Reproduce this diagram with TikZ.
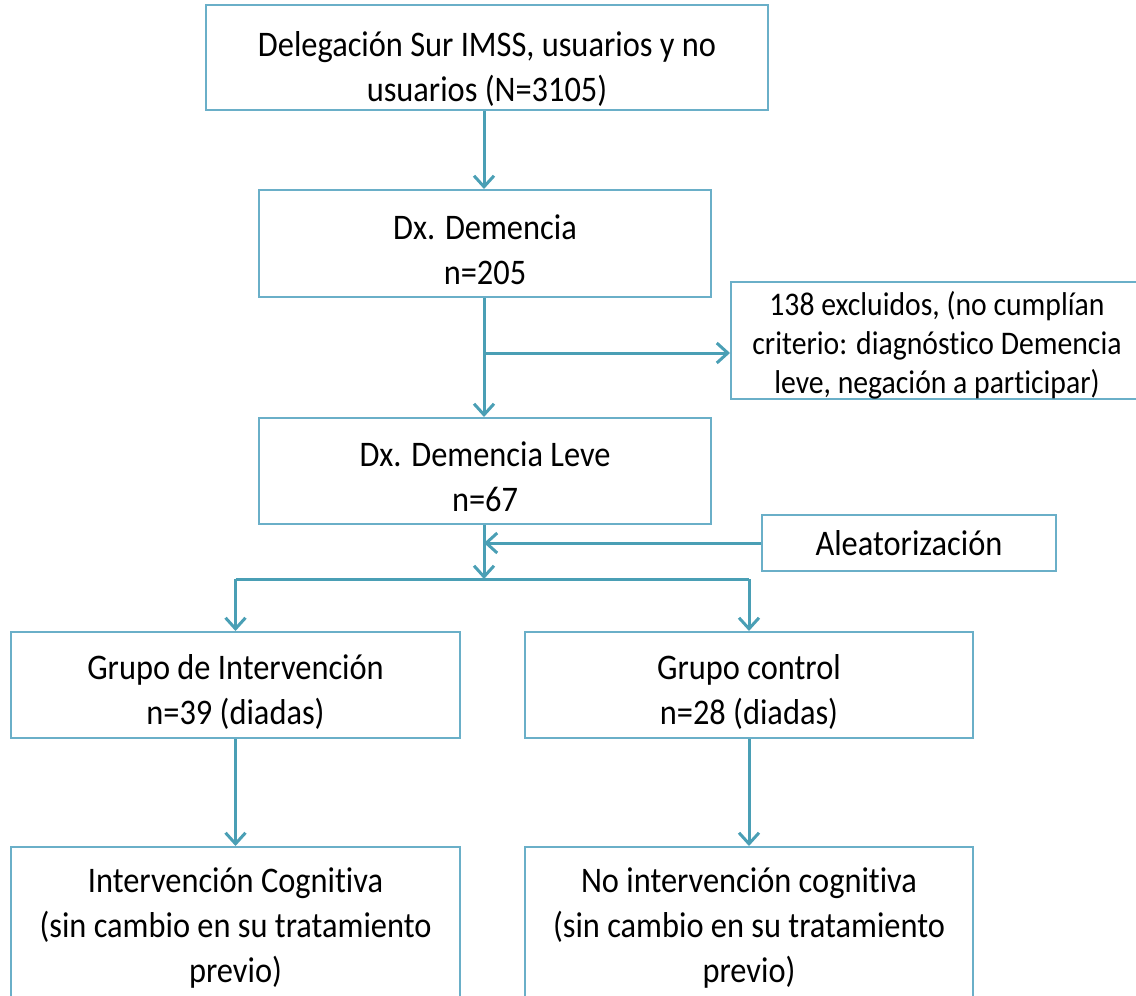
\documentclass[tikz,border=0pt]{standalone}
\usepackage{fontspec}
\setmainfont{Carlito}[Ligatures = NoCommon, FakeStretch = 0.9]
\usetikzlibrary{arrows.meta}
\usetikzlibrary{calc}

\definecolor{boxline}{HTML}{6AAFC8}
\definecolor{flowline}{HTML}{4A9FB5}

% pushes a text down inside its box
\newcommand{\dropby}[1]{\rule{0pt}{#1}}

\tikzset{
  stage/.style = {draw = boxline, line width = 2pt, align = center, inner sep = 0pt,
                  font = \fontsize{36}{45}\selectfont},
  flow/.style  = {draw = flowline, line width = 3pt, -{Straight Barb[length=11pt,width=20pt,line width=3pt]}}
}

\begin{document}
\begin{tikzpicture}[x = 1pt, y = -1pt]
            \useasboundingbox (0,0) rectangle (1136,996);
            \clip (0,0) rectangle (1136,996);
            \node[stage, minimum width = 562pt, minimum height = 105pt] (Del) at (487,57.5) {\dropby{47pt}Delegación Sur IMSS, usuarios y no\\usuarios (N=3105)};
            \node[stage, minimum width = 452pt, minimum height = 107pt] (Dem) at (485,243.5) {\dropby{37pt}Dx. Demencia\\n=205};
            \node[stage, font = \fontsize{33}{39}\selectfont, minimum width = 412pt, minimum height = 109pt] (Exc) at (937,340.5) {\dropby{34pt}138 excluidos, (no cumplían\\criterio: diagnóstico Demencia\\leve, negación a participar)};
            \node[stage, minimum width = 452pt, minimum height = 106pt] (Leve) at (485,471) {\dropby{37pt}Dx. Demencia Leve\\n=67};
            \node[stage, minimum width = 294pt, minimum height = 56pt] (Alea) at (909,543) {Aleatorización};
            \node[stage, minimum width = 449pt, minimum height = 106pt] (GI) at (235.5,685) {\dropby{39pt}Grupo de Intervención\\n=39 (diadas)};
            \node[stage, minimum width = 448pt, minimum height = 106pt] (GC) at (749,685) {\dropby{39pt}Grupo control\\n=28 (diadas)};
            \node[stage, minimum width = 449pt, minimum height = 163pt] (IC) at (235.5,928.5) {Intervención Cognitiva\\(sin cambio en su tratamiento\\previo)};
            \node[stage, minimum width = 448pt, minimum height = 163pt] (NC) at (749,928.5) {No intervención cognitiva\\(sin cambio en su tratamiento\\previo)};
            \coordinate (Split) at (484,353);
            \coordinate (Rand) at (484,579);
            \draw[flow] (Del.south -| Split) to (Dem.north -| Split);
            \draw[flow] (Dem.south -| Split) to (Leve.north -| Split);
            \draw[flow] (Split) to (Split -| Exc.west);
            \draw[flow] (Alea.west) to (Alea.west -| Split);
            \draw[flow] (Leve.south -| Split) to (Rand);
            \draw[flow, -] (Rand -| GI.north) to (Rand -| GC.north);
            \draw[flow] (Rand -| GI.north) to (GI.north);
            \draw[flow] (Rand -| GC.north) to (GC.north);
            \draw[flow] (GI.south) to (IC.north);
            \draw[flow] (GC.south) to (NC.north);
        \end{tikzpicture}
\end{document}
